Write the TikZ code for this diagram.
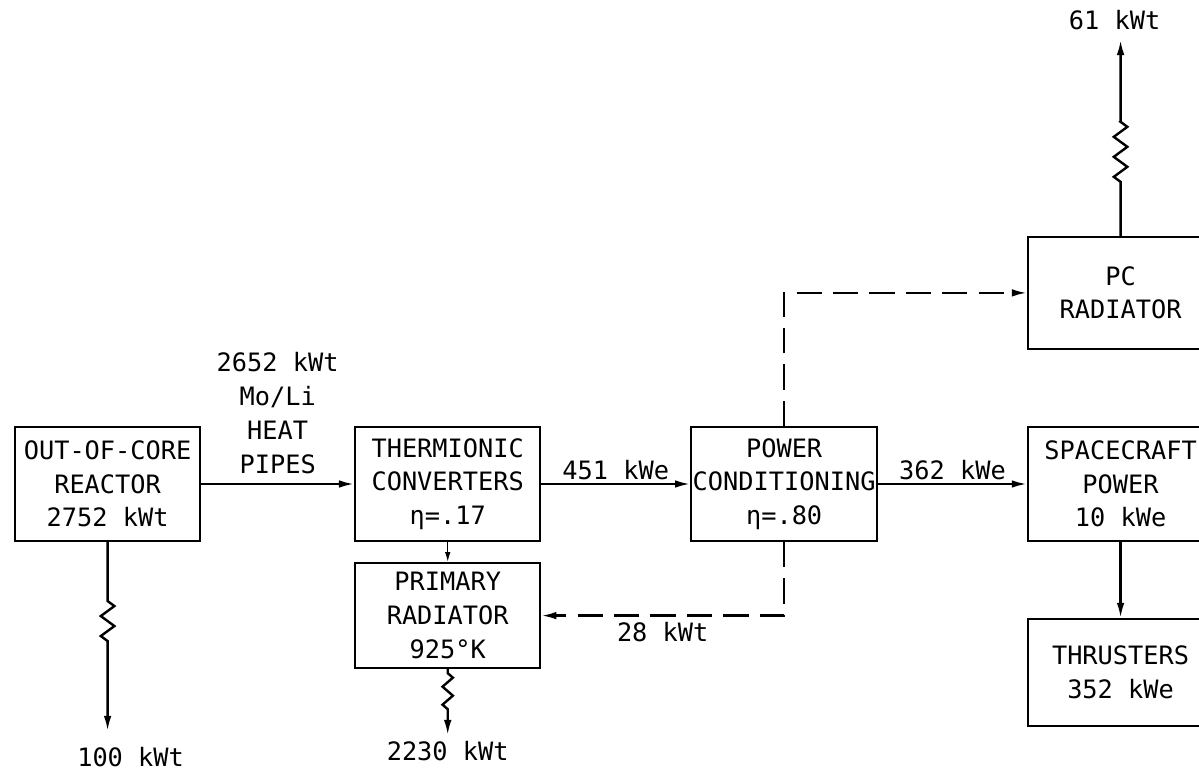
\documentclass[tikz,border=0pt]{standalone}
\usepackage{fontspec}
\setmonofont{DejaVu Sans Mono}
\usetikzlibrary{arrows.meta,positioning,decorations.pathmorphing}

\begin{document}
\begin{tikzpicture}[
    node distance=3.75cm and 3.725cm,
    font=\ttfamily\fontsize{18}{24}\selectfont,
    box/.style={draw, line width=1.5pt, minimum width=4.625cm, minimum height=2.85cm, inner sep=1pt, align=center},
    flow/.style={-{Latex[length=3.8mm,width=1.9mm]}, line width=1.7pt},
    return/.style={flow, dash pattern=on 6.3mm off 2.8mm},
    heatloss/.style={decoration={zigzag, segment length=5mm, amplitude=1.7mm}},
    lbl/.style={inner sep=1pt, align=center}
  ]
    \useasboundingbox (0,0) rectangle (29.975,-19.35);
    % main chain
    \node[box] (reactor) at (2.69,-12.1) {OUT-OF-CORE\\REACTOR\\2752 kWt};
    \node[box, right=3.825cm of reactor] (converters) {THERMIONIC\\CONVERTERS\\η=.17};
    \node[box, right=of converters] (conditioning) {POWER\\CONDITIONING\\η=.80};
    \node[box, right=of conditioning] (spacecraft) {SPACECRAFT\\POWER\\10 kWe};
    \node[box, minimum height=2.625cm, below=0.5cm of converters] (primary) {PRIMARY\\RADIATOR\\925\textdegree K};
    \node[box, minimum height=2.8cm, above=1.9cm of spacecraft] (pcrad) {PC\\RADIATOR};
    \node[box, minimum height=2.675cm, below=1.9cm of spacecraft] (thrusters) {THRUSTERS\\352 kWe};
    % heat rejected to space
    \coordinate (rloss) at ([yshift=-4.725cm]reactor.south);
    \coordinate (ploss) at ([yshift=-1.65cm]primary.south);
    \coordinate (closs) at ([yshift=4.9cm]pcrad.north);
    \node[lbl] (rlosslbl) at ([xshift=0.575cm,yshift=-0.65cm]rloss) {100 kWt};
    \node[lbl] (plosslbl) at ([yshift=-0.4cm]ploss) {2230 kWt};
    \node[lbl] (clossslbl) at ([xshift=-0.15cm,yshift=0.5cm]closs) {61 kWt};
    % connectors
    \draw[flow] (reactor) -- node[lbl, above=0.2cm] (pipes) {2652 kWt\\Mo/Li\\HEAT\\PIPES} (converters);
    \draw[flow] (converters) -- node[lbl, above=0.05cm] (elec) {451 kWe} (conditioning);
    \draw[flow] (conditioning) -- node[lbl, above=0.05cm] (bus) {362 kWe} (spacecraft);
    \draw[-{Latex[length=2.5mm,width=1.4mm]}, line width=1pt] (converters.south -| primary.north) -- (primary.north);
    \draw[flow] (spacecraft) -- (thrusters);
    \draw[return] (conditioning.south) |- node[lbl, pos=0.75, below=0.1cm] (pcloss) {28 kWt} (primary.east);
    \draw[return] (conditioning.north) |- (pcrad.west);
    \draw[flow] (reactor.south) -- ++(0,-1.475) decorate[heatloss] {-- ++(0,-1.175)} -- (rloss);
    \draw[flow] (primary.south) -- ++(0,-0.1) decorate[heatloss, decoration={amplitude=1.3mm, segment length=4.5mm}] {-- ++(0,-0.95)} -- (ploss);
    \draw[flow] (pcrad.north) -- ++(0,1.35) decorate[heatloss] {-- ++(0,1.5)} -- (closs);
  \end{tikzpicture}
\end{document}
